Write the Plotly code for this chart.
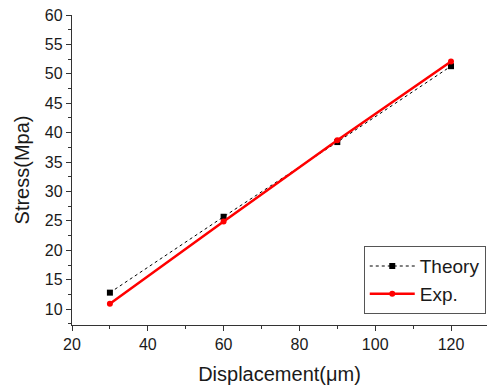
import plotly.graph_objects as go

displacement = [30, 60, 90, 120]
theory = [12.8, 25.7, 38.4, 51.3]
exp = [10.9, 24.9, 38.7, 52.1]

FONT = "Liberation Sans, Arial"
fig = go.Figure()
fig.add_trace(go.Scatter(x=displacement, y=theory, name="Theory", mode="lines+markers",
                         line=dict(color="black", width=1, dash="dot"),
                         marker=dict(symbol="square", size=6, color="black")))
fig.add_trace(go.Scatter(x=displacement, y=exp, name="Exp.", mode="lines+markers",
                         line=dict(color="#ff0000", width=2.5),
                         marker=dict(symbol="circle", size=6, color="#ff0000")))

axis_common = dict(showline=True, linecolor="#333333", linewidth=1.3, ticks="outside",
                   ticklen=5, tickcolor="#333333", showgrid=False, zeroline=False,
                   tickfont=dict(family=FONT, size=16, color="#1a1a1a"),
                   mirror=False, automargin=False)
fig.update_xaxes(range=[20, 129.5], dtick=20, tick0=20,
                 minor=dict(dtick=10, ticks="outside", ticklen=3, tickcolor="#333333"),
                 title=dict(text="Displacement(\u03bcm)", font=dict(family=FONT, size=20, color="#1a1a1a"), standoff=14),
                 **axis_common)
fig.update_yaxes(range=[7.3, 60], dtick=5, tick0=10,
                 minor=dict(dtick=2.5, ticks="outside", ticklen=3, tickcolor="#333333"),
                 title=dict(text="Stress(Mpa)", font=dict(family=FONT, size=20, color="#1a1a1a"), standoff=9),
                 **axis_common)
fig.update_layout(width=488, height=389, margin=dict(l=72, r=1, t=15, b=64),
                  plot_bgcolor="white", paper_bgcolor="white",
                  legend=dict(x=0.997, y=0.035, xanchor="right", yanchor="bottom",
                              bordercolor="#555555", borderwidth=1, bgcolor="white",
                              font=dict(family=FONT, size=19, color="#1a1a1a"),
                              tracegroupgap=0, itemwidth=45))
fig.write_html("out.html", config={"displayModeBar": False},
               post_script="document.body.style.margin='0px';")
